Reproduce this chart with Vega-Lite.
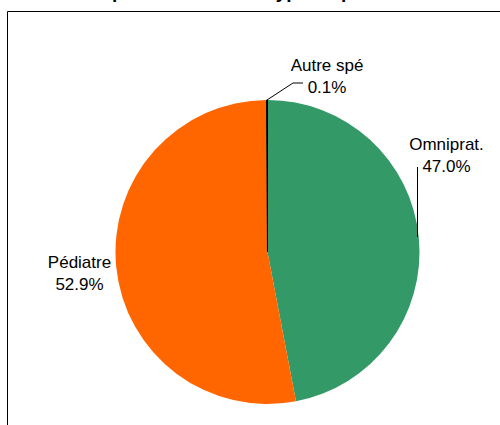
{
  "$schema": "https://vega.github.io/schema/vega-lite/v6.json",
  "autosize": {"type": "none"},
  "padding": {"left": 7, "top": 11, "right": 0, "bottom": 0},
  "width": 494,
  "height": 415,
  "background": "white",
  "config": {
    "view": {"stroke": "#000", "strokeWidth": 1},
    "font": "Liberation Sans"
  },
  "title": {
    "text": "Répartition selon le type de praticien",
    "fontSize": 19,
    "fontWeight": "bold",
    "font": "Liberation Sans",
    "color": "#000",
    "anchor": "middle",
    "frame": "group",
    "baseline": "alphabetic",
    "offset": 0,
    "dy": 6
  },
  "datasets": {
    "pie": [
      {"type": "Omniprat.", "share": 0.470, "ord": 1},
      {"type": "Pédiatre", "share": 0.529, "ord": 2},
      {"type": "Autre spé", "share": 0.001, "ord": 3}
    ],
    "callouts": [
      {"type": "Omniprat.", "cx": 179, "cy": 107},
      {"type": "Pédiatre", "cx": -188, "cy": -11},
      {"type": "Autre spé", "cx": 59.5, "cy": 186.5}
    ],
    "leaders": [
      {"seg": "autre", "k": 1, "px": -0.5, "py": 152},
      {"seg": "autre", "k": 2, "px": 25.5, "py": 169},
      {"seg": "autre", "k": 3, "px": 35.5, "py": 169},
      {"seg": "omni", "k": 1, "px": 150, "py": 85},
      {"seg": "omni", "k": 2, "px": 150, "py": 15}
    ]
  },
  "layer": [
    {
      "data": {"name": "pie"},
      "mark": {"type": "arc", "outerRadius": 152},
      "encoding": {
        "x": {"datum": 0, "type": "quantitative", "scale": {"domain": [-260.5, 233.5], "nice": false, "zero": false}, "axis": null},
        "y": {"datum": 0, "type": "quantitative", "scale": {"domain": [-174, 241], "nice": false, "zero": false}, "axis": null},
        "theta": {"field": "share", "type": "quantitative", "stack": true},
        "order": {"field": "ord", "type": "quantitative"},
        "color": {
          "field": "type",
          "type": "nominal",
          "scale": {"domain": ["Omniprat.", "Pédiatre", "Autre spé"], "range": ["#339966", "#FF6600", "#000000"]},
          "legend": null
        },
        "stroke": {"condition": {"test": "datum.type === 'Autre spé'", "value": "#000000"}, "value": "transparent"},
        "strokeWidth": {"condition": {"test": "datum.type === 'Autre spé'", "value": 1}, "value": 0}
      }
    },
    {
      "data": {"name": "leaders"},
      "mark": {"type": "line", "color": "#000", "strokeWidth": 1},
      "encoding": {
        "x": {"field": "px", "type": "quantitative", "axis": null},
        "y": {"field": "py", "type": "quantitative", "axis": null},
        "detail": {"field": "seg"},
        "order": {"field": "k", "type": "quantitative"}
      }
    },
    {
      "data": {"name": "callouts"},
      "transform": [
        {"lookup": "type", "from": {"data": {"name": "pie"}, "key": "type", "fields": ["share"]}},
        {"calculate": "datum.type + '\\n' + format(datum.share, '.1%')", "as": "label"}
      ],
      "mark": {"type": "text", "align": "center", "baseline": "middle", "lineBreak": "\n", "lineHeight": 22, "fontSize": 17, "font": "Liberation Sans", "color": "#000"},
      "encoding": {
        "x": {"field": "cx", "type": "quantitative", "axis": null},
        "y": {"field": "cy", "type": "quantitative", "axis": null},
        "text": {"field": "label"}
      }
    }
  ]
}
